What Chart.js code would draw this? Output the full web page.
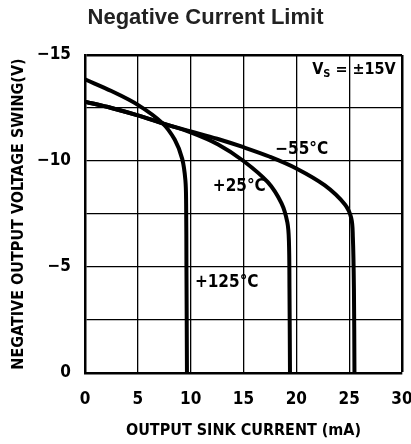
<!DOCTYPE html>
<html>
<head>
<meta charset="utf-8">
<script src="https://cdn.jsdelivr.net/npm/chart.js@4.4.1/dist/chart.umd.min.js"></script>
<style>
  html, body { margin: 0; padding: 0; background: #fff; }
  #wrap { width: 411px; height: 444px; }
</style>
</head>
<body>
<div id="wrap"><canvas id="limitChart"></canvas></div>
<script>
  // curves: [sink current mA, output swing V]
  const curve125 = [[0, -13.85], [2.5, -13.3], [5, -12.65], [7.3, -11.8], [8.5, -11.0], [9.2, -10.1],
    [9.5, -9.1], [9.57, -8.0], [9.6, -5.0], [9.65, 0]];
  const curve25 = [[0, -12.8], [2.5, -12.5], [5, -12.15], [7.5, -11.75], [10, -11.35], [12.6, -10.78],
    [15, -10.0], [17.3, -9.0], [18.6, -8.0], [19.15, -7.1], [19.3, -6.2], [19.35, -4.0], [19.4, 0]];
  const curveMinus55 = [[0, -12.8], [2.5, -12.5], [5, -12.15], [7.5, -11.75], [10, -11.4], [12.5, -11.05],
    [15, -10.65], [17.5, -10.2], [20, -9.65], [22.7, -8.85], [24.6, -7.95], [25.2, -7.3], [25.35, -6.4],
    [25.45, -4.0], [25.5, 0]];
  const xTicks = [0, 5, 10, 15, 20, 25, 30];
  const yTicks = [0, -5, -10, -15];
  const curveLabels = [
    { text: '\u221255\u00b0C', x: 18.0, y: -10.55 },
    { text: '+25\u00b0C', x: 12.1, y: -8.8 },
    { text: '+125\u00b0C', x: 10.4, y: -4.25 }
  ];

  const narrow = "'Liberation Sans Narrow', 'DejaVu Sans Condensed', 'Arial Narrow', sans-serif";

  const toPoints = arr => arr.map(p => ({ x: p[0], y: p[1] }));

  const lineStyle = {
    borderColor: '#000',
    borderWidth: 4,
    pointRadius: 0,
    showLine: true,
    tension: 0.35,
    fill: false
  };

  // text labels on the plot, placed through the scales
  const notes = {
    id: 'notes',
    afterDatasetsDraw(chart) {
      const { ctx, scales: { x, y } } = chart;
      ctx.save();
      ctx.fillStyle = '#000';
      ctx.textBaseline = 'middle';
      ctx.textAlign = 'left';
      ctx.font = 'bold 17px ' + narrow;
      curveLabels.forEach(l => {
        ctx.fillText(l.text, x.getPixelForValue(l.x), y.getPixelForValue(l.y));
      });
      // V_S = ±15V
      ctx.font = 'bold 16px ' + narrow;
      let px = x.getPixelForValue(21.5);
      const py = y.getPixelForValue(-14.3);
      ctx.fillText('V', px, py);
      px += ctx.measureText('V').width;
      ctx.font = 'bold 11px ' + narrow;
      ctx.fillText('S', px, py + 4);
      px += ctx.measureText('S').width;
      ctx.font = 'bold 16px ' + narrow;
      ctx.fillText(' = \u00b115V', px, py);
      ctx.restore();
    }
  };

  const ctx = document.getElementById('limitChart').getContext('2d');
  new Chart(ctx, {
    type: 'scatter',
    data: {
      datasets: [
        { label: '+125\u00b0C', data: toPoints(curve125), ...lineStyle },
        { label: '+25\u00b0C', data: toPoints(curve25), ...lineStyle },
        { label: '\u221255\u00b0C', data: toPoints(curveMinus55), ...lineStyle }
      ]
    },
    options: {
      responsive: true,
      maintainAspectRatio: false,
      animation: false,
      layout: { padding: { left: 0, right: 0, top: 0, bottom: 0 } },
      plugins: {
        legend: { display: false },
        tooltip: { enabled: false },
        title: {
          display: true,
          text: 'Negative Current Limit',
          color: '#222',
          font: { family: "'Liberation Sans', Arial, sans-serif", size: 22, weight: 'bold' },
          padding: { top: 5, bottom: 23.6 }
        }
      },
      scales: {
        x: {
          type: 'linear',
          min: 0,
          max: 30,
          afterBuildTicks: s => { s.ticks = xTicks.map(v => ({ value: v })); },
          afterFit: s => { s.height = 71; s.paddingRight = 9; },
          ticks: {
            color: '#000',
            padding: 16,
            font: { family: narrow, size: 17, weight: 'bold' }
          },
          grid: {
            color: '#000',
            drawTicks: false,
            lineWidth: c => (c.tick && c.tick.value === 30 ? 2.5 : 1.3)
          },
          border: { color: '#000', width: 2.5 },
          title: {
            display: true,
            text: 'OUTPUT SINK CURRENT (mA)',
            color: '#000',
            font: { family: narrow, size: 16, weight: 'bold' },
            padding: { top: 0, bottom: 4 }
          }
        },
        y: {
          type: 'linear',
          min: -15,
          max: 0,
          reverse: true,
          ticks: {
            stepSize: 2.5,
            color: '#000',
            padding: 14,
            font: { family: narrow, size: 17, weight: 'bold' },
            callback: v => (yTicks.includes(v) ? (v < 0 ? '\u2212' + Math.abs(v) : '0') : '')
          },
          afterFit: s => { s.width = 85; },
          grid: {
            color: '#000',
            drawTicks: false,
            lineWidth: c => (c.tick && c.tick.value === -15 ? 2.5 : 1.3)
          },
          border: { color: '#000', width: 2.5 },
          title: {
            display: true,
            text: 'NEGATIVE OUTPUT VOLTAGE SWING(V)',
            color: '#000',
            font: { family: narrow, size: 16, weight: 'bold' },
            padding: { top: 9.6, bottom: 0 }
          }
        }
      }
    },
    plugins: [notes]
  });
</script>
</body>
</html>
